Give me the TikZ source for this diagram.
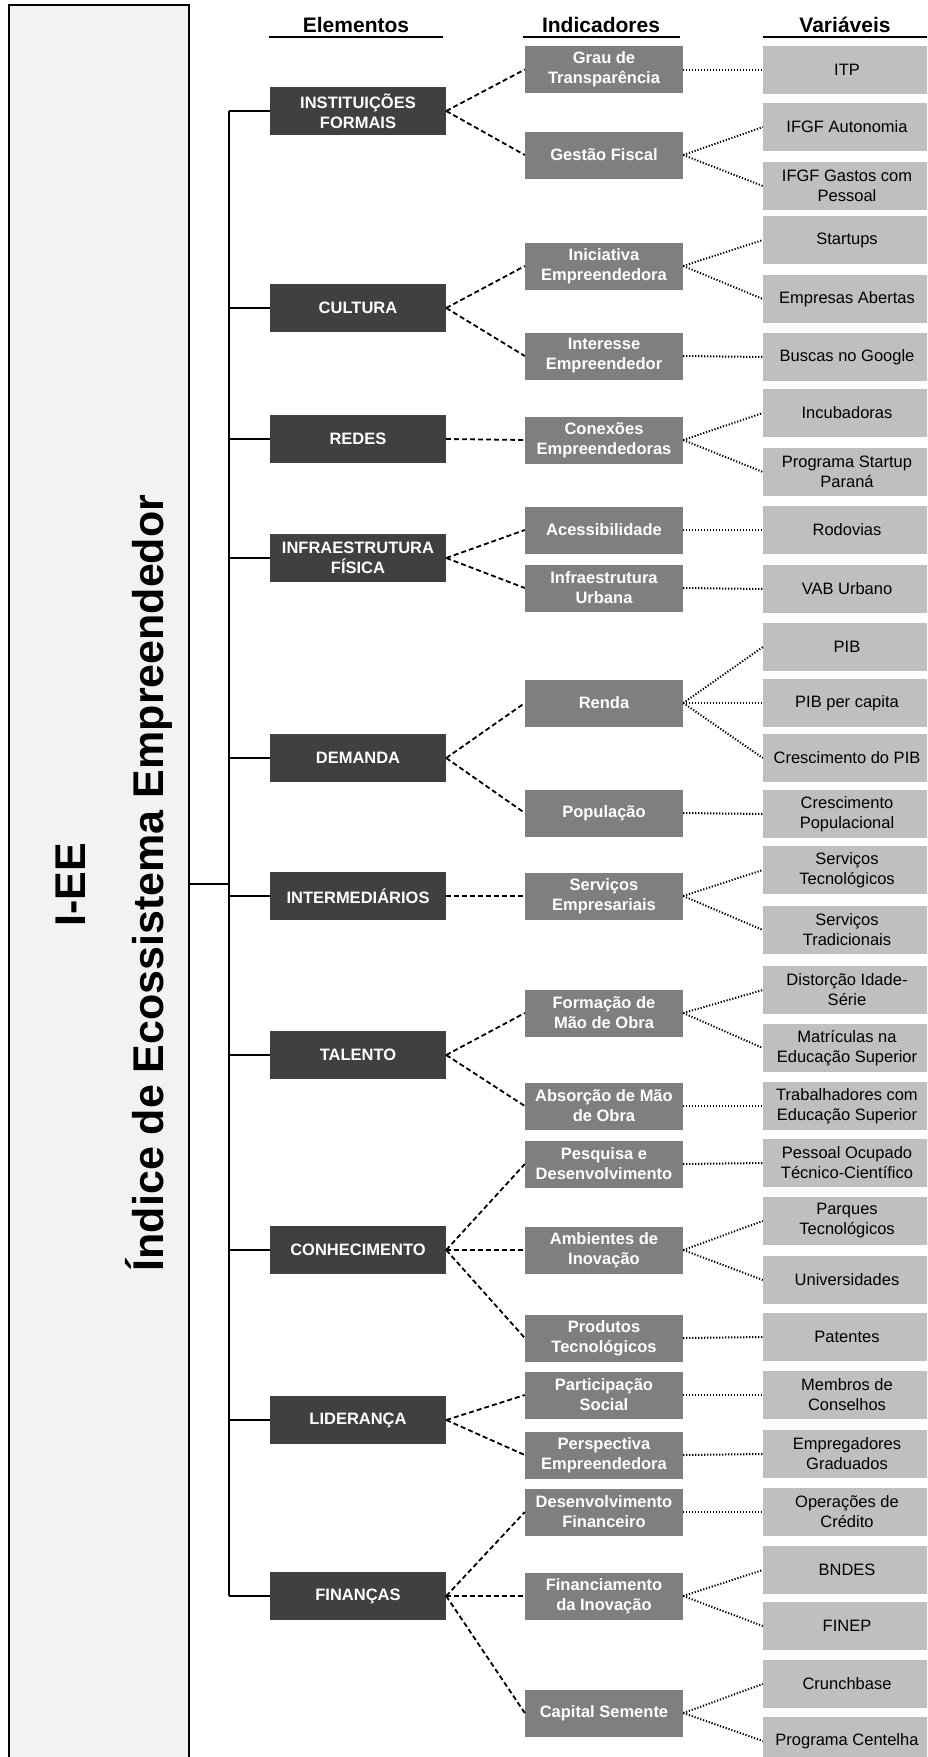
\documentclass[tikz,border=0pt]{standalone}
\usepackage{fontspec}
\setmainfont{Liberation Sans}
\definecolor{elemfill}{HTML}{404040}
\definecolor{indfill}{HTML}{7F7F7F}
\definecolor{varfill}{HTML}{BFBFBF}
\definecolor{panelfill}{HTML}{F2F2F2}
\begin{document}
\begin{tikzpicture}[x=1pt,y=-1pt,
  elem/.style={rectangle, fill=elemfill, minimum width=176, minimum height=48, inner sep=0, text=white, align=center, font=\bfseries\fontsize{16.5}{20}\selectfont},
  ind/.style={rectangle, fill=indfill, minimum width=158, minimum height=47, inner sep=0, text=white, align=center, font=\bfseries\fontsize{16.5}{20}\selectfont},
  var/.style={rectangle, fill=varfill, minimum width=168, minimum height=48, inner sep=0, text=black, align=center, font=\fontsize{16.5}{20}\selectfont},
  hdr/.style={font=\bfseries\fontsize{21}{25}\selectfont, inner sep=0},
  ttl/.style={font=\bfseries\fontsize{43}{50}\selectfont, rotate=90, anchor=base, inner sep=0},
  solidline/.style={line width=1.8, draw=black},
  dashline/.style={line width=1.8, draw=black, dash pattern=on 5 off 3},
  dotline/.style={line width=2, draw=black, dash pattern=on 1.2 off 1.8},
  uline/.style={line width=2, draw=black}]
\useasboundingbox (0,0) rectangle (927,1757);
\begin{scope}
\clip (0,0) rectangle (927,1757);
% left panel
\node[rectangle, draw=black, line width=2, fill=panelfill, minimum width=180, minimum height=1775, inner sep=0] (main) at (98.5,892.5) {};
\node[ttl] (t1) at (85,885) {I-EE};
\node[ttl] (t2) at (163,883) {Índice de Ecossistema Empreendedor};

% headers
\node[hdr] (h1) at (356,25) {Elementos};
\node[hdr] (h2) at (601,25) {Indicadores};
\node[hdr] (h3) at (845,25) {Variáveis};
\draw[uline] (269,37) -- (443,37);
\draw[uline] (523,37) -- (680,37);
\draw[uline] (763,37) -- (927,37);

% elements
\node[elem] (e1) at (358,111) {INSTITUIÇÕES\\FORMAIS};
\node[elem] (e2) at (358,308) {CULTURA};
\node[elem] (e3) at (358,439) {REDES};
\node[elem] (e4) at (358,558) {INFRAESTRUTURA\\FÍSICA};
\node[elem] (e5) at (358,758) {DEMANDA};
\node[elem] (e6) at (358,896) {INTERMEDIÁRIOS};
\node[elem] (e7) at (358,1055) {TALENTO};
\node[elem] (e8) at (358,1250) {CONHECIMENTO};
\node[elem] (e9) at (358,1420) {LIDERANÇA};
\node[elem] (e10) at (358,1596) {FINANÇAS};

% indicators
\node[ind] (i1) at (604,69.5) {Grau de\\Transparência};
\node[ind] (i2) at (604,155) {Gestão Fiscal};
\node[ind] (i3) at (604,266) {Iniciativa\\Empreendedora};
\node[ind] (i4) at (604,356) {Interesse\\Empreendedor};
\node[ind] (i5) at (604,440) {Conexões\\Empreendedoras};
\node[ind] (i6) at (604,530) {Acessibilidade};
\node[ind] (i7) at (604,588) {Infraestrutura\\Urbana};
\node[ind] (i8) at (604,703) {Renda};
\node[ind] (i9) at (604,813) {População};
\node[ind] (i10) at (604,896) {Serviços\\Empresariais};
\node[ind] (i11) at (604,1013) {Formação de\\Mão de Obra};
\node[ind] (i12) at (604,1106) {Absorção de Mão\\de Obra};
\node[ind] (i13) at (604,1164) {Pesquisa e\\Desenvolvimento};
\node[ind] (i14) at (604,1250) {Ambientes de\\Inovação};
\node[ind] (i15) at (604,1338) {Produtos\\Tecnológicos};
\node[ind] (i16) at (604,1395) {Participação\\Social};
\node[ind] (i17) at (604,1455) {Perspectiva\\Empreendedora};
\node[ind] (i18) at (604,1512) {Desenvolvimento\\Financeiro};
\node[ind] (i19) at (604,1596) {Financiamento\\da Inovação};
\node[ind] (i20) at (604,1713) {Capital Semente};

% variables
\node[var] (v1) at (847,69.5) {ITP};
\node[var] (v2) at (847,127) {IFGF Autonomia};
\node[var] (v3) at (847,186) {IFGF Gastos com\\Pessoal};
\node[var] (v4) at (847,240) {Startups};
\node[var] (v5) at (847,299) {Empresas Abertas};
\node[var] (v6) at (847,357) {Buscas no Google};
\node[var] (v7) at (847,413) {Incubadoras};
\node[var] (v8) at (847,472) {Programa Startup\\Paraná};
\node[var] (v9) at (847,530) {Rodovias};
\node[var] (v10) at (847,589) {VAB Urbano};
\node[var] (v11) at (847,647) {PIB};
\node[var] (v12) at (847,703) {PIB per capita};
\node[var] (v13) at (847,758) {Crescimento do PIB};
\node[var] (v14) at (847,814) {Crescimento\\Populacional};
\node[var] (v15) at (847,870) {Serviços\\Tecnológicos};
\node[var] (v16) at (847,930) {Serviços\\Tradicionais};
\node[var] (v17) at (847,990) {Distorção Idade-\\Série};
\node[var] (v18) at (847,1048) {Matrículas na\\Educação Superior};
\node[var] (v19) at (847,1106) {Trabalhadores com\\Educação Superior};
\node[var] (v20) at (847,1163) {Pessoal Ocupado\\Técnico-Científico};
\node[var] (v21) at (847,1221) {Parques\\Tecnológicos};
\node[var] (v22) at (847,1280) {Universidades};
\node[var] (v23) at (847,1337) {Patentes};
\node[var] (v24) at (847,1395) {Membros de\\Conselhos};
\node[var] (v25) at (847,1454) {Empregadores\\Graduados};
\node[var] (v26) at (847,1512) {Operações de\\Crédito};
\node[var] (v27) at (847,1570) {BNDES};
\node[var] (v28) at (847,1626) {FINEP};
\node[var] (v29) at (847,1684) {Crunchbase};
\node[var] (v30) at (847,1741) {Programa Centelha};

% trunk
\coordinate (ttop) at (229,111);
\coordinate (tbot) at (229,1596);
\coordinate (tj) at (229,884);
\draw[solidline] (ttop) -- (tbot);
\draw[solidline] (main.east |- tj) -- (tj);
\foreach \e in {e1,e2,e3,e4,e5,e6,e7,e8,e9,e10}
  \draw[solidline] (\e.west) -- (\e.west -| ttop);

% element -> indicator
\foreach \a/\b in {e1/i1,e1/i2,e2/i3,e2/i4,e3/i5,e4/i6,e4/i7,e5/i8,e5/i9,e6/i10,e7/i11,e7/i12,e8/i13,e8/i14,e8/i15,e9/i16,e9/i17,e10/i18,e10/i19,e10/i20}
  \draw[dashline] (\a.east) -- (\b.west);

% indicator -> variable
\foreach \a/\b in {i1/v1,i2/v2,i2/v3,i3/v4,i3/v5,i4/v6,i5/v7,i5/v8,i6/v9,i7/v10,i8/v11,i8/v12,i8/v13,i9/v14,i10/v15,i10/v16,i11/v17,i11/v18,i12/v19,i13/v20,i14/v21,i14/v22,i15/v23,i16/v24,i17/v25,i18/v26,i19/v27,i19/v28,i20/v29,i20/v30}
  \draw[dotline] (\a.east) -- (\b.west);
\end{scope}
\end{tikzpicture}
\end{document}
